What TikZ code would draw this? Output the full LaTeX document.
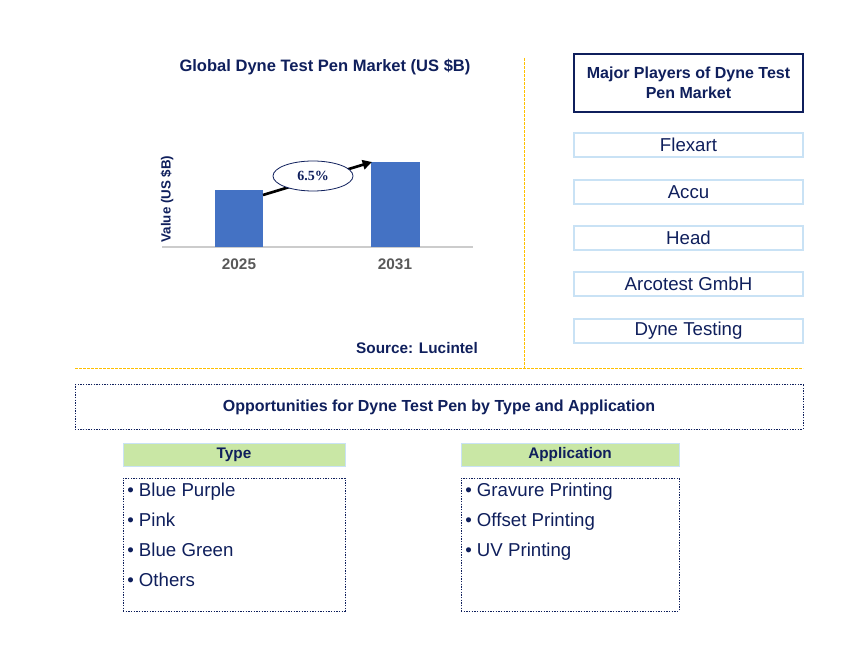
\documentclass[tikz,border=0pt]{standalone}
\usepackage{fontspec}
\setmainfont{Liberation Sans}
\newfontfamily\numfont{Liberation Serif}
\usetikzlibrary{shapes.geometric,arrows.meta}
\definecolor{navy}{HTML}{0F1F5C}
\definecolor{barblue}{HTML}{4472C4}
\definecolor{gold}{HTML}{FFC000}
\definecolor{paleblue}{HTML}{C9E2F5}
\definecolor{lgreen}{HTML}{C9E7A5}
\definecolor{axisgray}{HTML}{595959}

\begin{document}
\begin{tikzpicture}[x=0.75pt,y=-0.75pt]
\tikzstyle{player}=[draw=paleblue,line width=0.8pt,minimum width=171.75pt,minimum height=18pt,inner sep=0pt,text=navy,font=\fontsize{14}{16}\selectfont];
\tikzstyle{dotbox}=[draw=navy,line width=0.75pt,dash pattern=on 1pt off 1pt,inner sep=0pt];
\tikzstyle{seghead}=[fill=lgreen,draw=paleblue,line width=0.6pt,minimum height=17.25pt,inner sep=0pt,text=navy,font=\bfseries\fontsize{11.5}{13}\selectfont];
\tikzstyle{item}=[anchor=west,inner sep=0pt,text height=1.6ex,text depth=0.4ex,text=navy,font=\fontsize{14}{16}\selectfont];
\useasboundingbox (0,0) rectangle (868,652);
% separators
\draw[gold,line width=0.75pt,dash pattern=on 2pt off 1pt] (524,58) -- (524,368);
\draw[gold,line width=0.75pt,dash pattern=on 2pt off 1pt] (75,369) -- (803,369);
% chart
\node[text=navy,font=\bfseries\fontsize{12.4}{14}\selectfont] (title) at (325,67) {Global Dyne Test Pen Market (US \$B)};
\node[rotate=90,text=navy,font=\bfseries\fontsize{10}{12}\selectfont] (ylab) at (167,199) {Value (US \$B)};
\draw[gray!40,line width=0.8pt] (162,247) -- (473,247);
\fill[barblue] (215,190) rectangle (263,247);
\fill[barblue] (371,162) rectangle (420,247);
\node[text=axisgray,font=\bfseries\fontsize{11.5}{13}\selectfont] (y1) at (239,264) {2025};
\node[text=axisgray,font=\bfseries\fontsize{11.5}{13}\selectfont] (y2) at (395,264) {2031};
\coordinate (b1) at (263,195);
\coordinate (b2) at (372,162);
\draw[line width=2pt,-{Triangle[length=7pt,width=7pt]}] (b1) -- (b2);
\node[ellipse,draw=navy,fill=white,line width=0.6pt,minimum width=60pt,minimum height=22.5pt,inner sep=0pt,font=\numfont\bfseries\fontsize{10.5}{12}\selectfont,text=navy] (cagr) at (313,176) {6.5\%};
\node[text=navy,font=\bfseries\fontsize{11.5}{13}\selectfont] (src) at (417,348) {Source: Lucintel};
% players
\node[draw=navy,line width=0.9pt,minimum width=171.75pt,minimum height=43.5pt,inner sep=0pt,align=center,text=navy,font=\bfseries\fontsize{12}{15}\selectfont] (players) at (688.5,83) {Major Players of Dyne Test\\Pen Market};
\node[player] (p1) at (688.5,145) {Flexart};
\node[player] (p2) at (688.5,192) {Accu};
\node[player] (p3) at (688.5,238) {Head};
\node[player] (p4) at (688.5,284) {Arcotest GmbH};
\node[player] (p5) at (688.5,331) {Dyne Testing};
% opportunities
\node[dotbox,minimum width=546pt,minimum height=33pt,text=navy,font=\bfseries\fontsize{12}{14}\selectfont] (opp) at (439,407) {Opportunities for Dyne Test Pen by Type and Application};
\node[seghead,minimum width=166.5pt] (type) at (234,454.5) {Type};
\node[seghead,minimum width=163.5pt] (app) at (570,454.5) {Application};
\node[dotbox,minimum width=166.5pt,minimum height=99.75pt] (typelist) at (234,544.5) {};
\node[dotbox,minimum width=163.5pt,minimum height=99.75pt] (applist) at (570,544.5) {};
\node[item] (t1) at (127,492) {• Blue Purple};
\node[item] (t2) at (127,522) {• Pink};
\node[item] (t3) at (127,552) {• Blue Green};
\node[item] (t4) at (127,582) {• Others};
\node[item] (a1) at (465,492) {• Gravure Printing};
\node[item] (a2) at (465,522) {• Offset Printing};
\node[item] (a3) at (465,552) {• UV Printing};
\end{tikzpicture}
\end{document}
